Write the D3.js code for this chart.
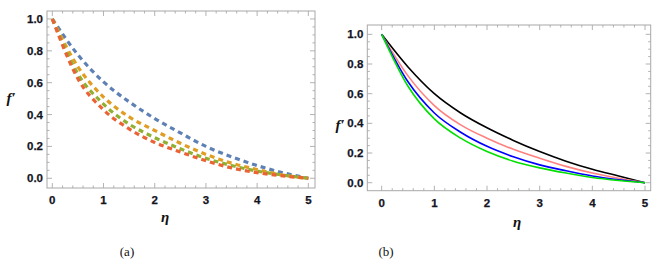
<!DOCTYPE html>
<html>
<head>
<meta charset="utf-8">
<script src="https://cdn.jsdelivr.net/npm/d3@7"></script>
<style>
  body { margin: 0; background: #fff; }
  .tick-label { font-family: "Liberation Sans", "DejaVu Sans", sans-serif; font-weight: 700; font-size: 11.5px; fill: #14141f; stroke: #14141f; stroke-width: 0.25px; }
  .axis-title { font-family: "Liberation Serif", "DejaVu Serif", serif; font-style: italic; font-weight: 700; font-size: 15px; fill: #111; }
  .caption { font-family: "Liberation Serif", "DejaVu Serif", serif; font-size: 13px; fill: #111; }
</style>
</head>
<body>
<div id="chart"></div>
<script>
// eta sample points shared by every curve
const eta = [0, 0.5, 1, 1.5, 2, 2.5, 3, 3.5, 4, 4.5, 5];

// panel (a) - dashed curves
const aBlue   = [1, 0.775, 0.605, 0.480, 0.375, 0.285, 0.200, 0.135, 0.080, 0.035, 0];
const aOrange = [1, 0.700, 0.510, 0.385, 0.300, 0.220, 0.150, 0.095, 0.055, 0.020, 0];
const aGreen  = [1, 0.655, 0.465, 0.340, 0.255, 0.185, 0.125, 0.080, 0.045, 0.020, 0];
const aRed    = [1, 0.625, 0.430, 0.310, 0.225, 0.165, 0.110, 0.065, 0.035, 0.015, 0];

// panel (b) - solid curves
const bBlack = [1, 0.780, 0.600, 0.470, 0.370, 0.285, 0.210, 0.145, 0.090, 0.045, 0];
const bPink  = [1, 0.720, 0.520, 0.390, 0.300, 0.225, 0.165, 0.110, 0.065, 0.030, 0];
const bBlue  = [1, 0.680, 0.470, 0.340, 0.245, 0.175, 0.120, 0.080, 0.045, 0.020, 0];
const bGreen = [1, 0.650, 0.430, 0.300, 0.210, 0.145, 0.100, 0.065, 0.035, 0.015, 0];

const xTicks = [0, 1, 2, 3, 4, 5];
const yTicks = [0, 0.2, 0.4, 0.6, 0.8, 1.0];

const svg = d3.select("#chart").append("svg")
    .attr("width", 666)
    .attr("height", 260);

function drawPanel(p) {
    const x = d3.scaleLinear().domain(p.xDomain).range([p.left, p.right]);
    const y = d3.scaleLinear().domain(p.yDomain).range([p.bottom, p.top]);
    const g = svg.append("g");

    // frame ticks: major inward, minor shorter, on all four sides
    const xMinor = d3.range(0, 5.001, 0.2);
    const yMinor = d3.range(0, 1.001, 0.05);
    const tickColor = "#a0a0a0";
    xMinor.forEach(v => {
        const major = Math.abs(v - Math.round(v)) < 1e-6;
        const len = major ? 5 : 2.5;
        g.append("line").attr("x1", x(v)).attr("x2", x(v))
            .attr("y1", p.bottom).attr("y2", p.bottom - len)
            .attr("stroke", tickColor).attr("stroke-width", 0.8);
        g.append("line").attr("x1", x(v)).attr("x2", x(v))
            .attr("y1", p.top).attr("y2", p.top + len)
            .attr("stroke", tickColor).attr("stroke-width", 0.8);
    });
    yMinor.forEach(v => {
        const major = Math.abs(v * 5 - Math.round(v * 5)) < 1e-6;
        const len = major ? 5 : 2.5;
        g.append("line").attr("y1", y(v)).attr("y2", y(v))
            .attr("x1", p.left).attr("x2", p.left + len)
            .attr("stroke", tickColor).attr("stroke-width", 0.8);
        g.append("line").attr("y1", y(v)).attr("y2", y(v))
            .attr("x1", p.right).attr("x2", p.right - len)
            .attr("stroke", tickColor).attr("stroke-width", 0.8);
    });

    g.append("rect")
        .attr("x", p.left).attr("y", p.top)
        .attr("width", p.right - p.left).attr("height", p.bottom - p.top)
        .attr("fill", "none").attr("stroke", "#a8a8a8").attr("stroke-width", 1);

    // tick labels
    g.selectAll(".xl").data(xTicks).enter().append("text")
        .attr("class", "tick-label")
        .attr("x", d => x(d)).attr("y", p.bottom + 16)
        .attr("text-anchor", "middle")
        .text(d => d);
    g.selectAll(".yl").data(yTicks).enter().append("text")
        .attr("class", "tick-label")
        .attr("x", p.left - 4).attr("y", d => y(d) + 4)
        .attr("text-anchor", "end")
        .text(d => d.toFixed(1));

    // curves
    const line = d3.line()
        .x((d, i) => x(eta[i]))
        .y(d => y(d))
        .curve(d3.curveMonotoneX);
    p.series.forEach(s => {
        g.append("path")
            .datum(s.values)
            .attr("d", line)
            .attr("fill", "none")
            .attr("stroke", s.color)
            .attr("stroke-width", p.width)
            .attr("stroke-dasharray", p.dash || null);
    });

    // axis titles and caption
    g.append("text").attr("class", "axis-title")
        .attr("x", p.etaX).attr("y", p.etaY)
        .attr("text-anchor", "middle").text("η");
    g.append("text").attr("class", "axis-title")
        .attr("x", p.fX).attr("y", p.fY)
        .attr("text-anchor", "middle").text("f′");
    g.append("text").attr("class", "caption")
        .attr("x", p.capX).attr("y", 256)
        .attr("text-anchor", "middle").text(p.caption);
}

drawPanel({
    left: 47, right: 315, top: 11, bottom: 188,
    xDomain: [-0.104, 5.13], yDomain: [-0.061, 1.05],
    width: 3.2, dash: "5,4",
    series: [
        { values: aBlue, color: "#5E81B5" },
        { values: aOrange, color: "#E19C24" },
        { values: aGreen, color: "#8FB032" },
        { values: aRed, color: "#EB6235" }
    ],
    etaX: 165, etaY: 222, fX: 11, fY: 103, capX: 127, caption: "(a)"
});

drawPanel({
    left: 367.3, right: 650.7, top: 25, bottom: 190.7,
    xDomain: [-0.273, 5.108], yDomain: [-0.054, 1.063],
    width: 1.6,
    series: [
        { values: bBlack, color: "#000000" },
        { values: bPink, color: "#FF8080" },
        { values: bBlue, color: "#0000FF" },
        { values: bGreen, color: "#00E000" }
    ],
    etaX: 517, etaY: 227, fX: 340, fY: 130, capX: 386, caption: "(b)"
});
</script>
</body>
</html>
